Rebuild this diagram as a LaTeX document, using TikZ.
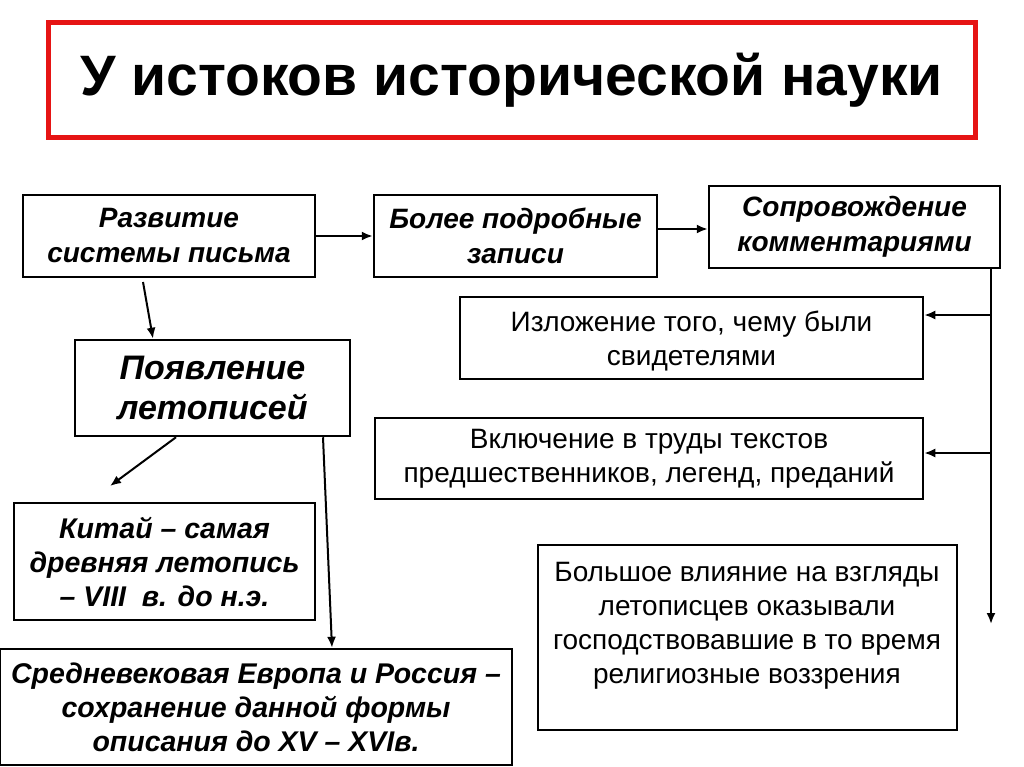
\documentclass[tikz,border=0pt]{standalone}
\usepackage{fontspec}
\setmainfont{Liberation Sans}
\usetikzlibrary{arrows.meta}
\definecolor{titlered}{RGB}{230,20,20}
\begin{document}
\begin{tikzpicture}[x=1pt,y=-1pt,
  box/.style={draw=black,line width=2.5pt,fill=white,inner sep=0pt,align=center},
  bi/.style={font=\fontsize{28}{35}\selectfont\bfseries\itshape},
  rg/.style={font=\fontsize{28}{34}\selectfont},
  arr/.style={line width=2pt,-{Latex[length=11pt,width=9pt]}},
  ln/.style={line width=2pt}]
\useasboundingbox (0,0) rectangle (1024,767);
\fill[white] (0,0) rectangle (1024,767);
% title
\node[draw=titlered,line width=5pt,minimum width=927pt,minimum height=115pt,inner sep=0pt,
  font=\fontsize{57}{66}\selectfont\bfseries] (title) at (511.5,80.5) {У истоков исторической науки};
% top row
\node[box,bi,minimum width=292pt,minimum height=82pt] (razv) at (169,236) {Развитие\\системы письма};
\node[box,bi,minimum width=283pt,minimum height=82pt] (bolee) at (515.5,236) {Более подробные\\записи};
\node[box,bi,minimum width=291pt,minimum height=82pt] (sopr) at (854.5,227) {Сопровождение\\комментариями};
% right column
\node[box,minimum width=463pt,minimum height=82pt] (izl) at (691.5,338) {};
\node[rg,align=center,inner sep=0pt] (izltxt) at (691.5,341) {Изложение того, чему были\\свидетелями};
\node[box,rg,minimum width=548pt,minimum height=81pt] (vkl) at (649,458.5) {Включение в труды текстов\\предшественников, легенд, преданий};
\node[box,minimum width=419pt,minimum height=185pt] (bol) at (747.5,637.5) {};
\node[rg,align=center,inner sep=0pt] (boltxt) at (747,626) {Большое влияние на взгляды\\летописцев оказывали\\господствовавшие в то время\\религиозные воззрения};
% left column
\node[box,font=\fontsize{34}{40}\selectfont\bfseries\itshape,minimum width=275pt,minimum height=96pt] (pojav) at (212.5,388) {Появление\\летописей};
\node[box,font=\fontsize{28.5}{34}\selectfont\bfseries\itshape,minimum width=301pt,minimum height=117pt] (kitaj) at (164.5,561.5) {Китай – самая\\древняя летопись\\– VIII\ \ в. до н.э.};
\node[box,font=\fontsize{28.5}{34}\selectfont\bfseries\itshape,minimum width=512pt,minimum height=116pt] (sred) at (256,707) {Средневековая Европа и Россия –\\сохранение данной формы\\описания до XV – XVIв.};
% connectors
\draw[arr] (razv.east) -- (bolee.west);
\draw[arr] (bolee.east |- 0,229) -- (sopr.west |- 0,229);
\draw[arr] (143,282) -- (pojav.north -| 153,0);
\draw[arr] (pojav.south -| 176,0) -- (110,486);
\draw[arr] (pojav.south -| 323,0) -- (sred.north -| 332,0);
\coordinate (rend) at (991,624);
\draw[arr] (sopr.south -| rend) -- (rend);
\draw[arr] (991,315) -- (izl.east |- 0,315);
\draw[arr] (991,453) -- (vkl.east |- 0,453);
\end{tikzpicture}
\end{document}
